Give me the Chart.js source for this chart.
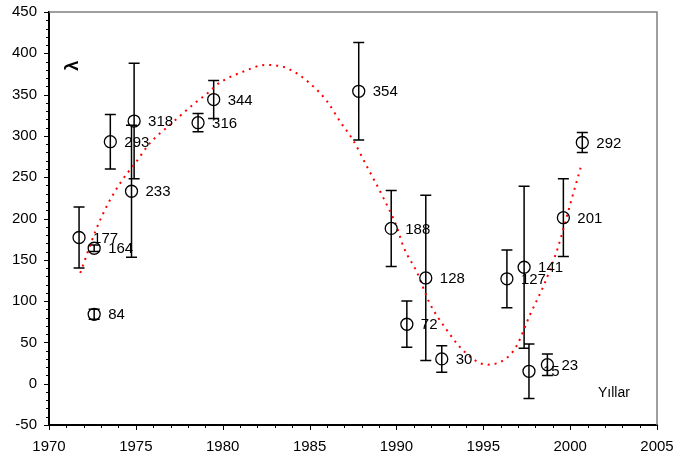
<!DOCTYPE html>
<html><head><meta charset="utf-8">
<script src="https://cdn.jsdelivr.net/npm/chart.js@4.4.1/dist/chart.umd.min.js"></script>
<style>html,body{margin:0;padding:0;background:#fff;}#wrap{width:675px;height:459px;}</style>
</head><body><div id="wrap"><canvas id="c" width="675" height="459"></canvas></div>
<script>
// ---- data ----
const years        = [1971.73, 1972.6, 1972.6, 1973.53, 1974.9, 1974.75, 1978.58, 1979.48, 1987.83, 1989.7, 1990.6, 1991.69, 1992.61, 1996.36, 1997.35, 1997.63, 1998.69, 1999.61, 2000.7];
const lambdaValues = [177, 164, 84, 293, 318, 233, 316, 344, 354, 188, 72, 128, 30, 127, 141, 15, 23, 201, 292];
const errors       = [37, 4, 6, 33, 70, 80, 11, 23, 59, 46, 28, 100, 16, 35, 98, 33, 13, 47, 12];
const pointLabels  = lambdaValues.map(String);

const fitYears  = [1971.8, 1972.7, 1973.4, 1974.2, 1975.0, 1975.8, 1977.0, 1978.3, 1979.2, 1979.8, 1981.2, 1982.5, 1983.7, 1985.0, 1986.0, 1986.8, 1987.5, 1988.3, 1989.2, 1990.0, 1990.4, 1991.2, 1991.9, 1992.9, 1993.9, 1995.2, 1996.2, 1996.9, 1997.7, 1998.5, 1999.3, 2000.0, 2000.65];
const fitValues = [134, 186, 218, 246, 268, 291, 314, 338, 353, 364, 378, 386, 382, 364, 342, 316, 295, 263, 227, 191, 166, 134, 98, 65, 39, 23, 29, 45, 84, 120, 165, 217, 265];

const xMin = 1970, xMax = 2005, xStep = 5, xMinorStep = 1;
const yMin = -50, yMax = 450, yStep = 50, yMinorStep = 10;
const yTitle = 'λ';
const xTitle = 'Yıllar';

const FONT = '"Liberation Sans", Arial, sans-serif';

const decor = {
  id: 'decor',
  beforeDatasetsDraw(chart) {
    const {ctx, chartArea: a, scales: {x, y}} = chart;
    ctx.save();
    ctx.strokeStyle = '#808080'; ctx.lineWidth = 1.5;
    ctx.beginPath();
    ctx.moveTo(a.left, a.top); ctx.lineTo(a.right, a.top); ctx.lineTo(a.right, a.bottom);
    ctx.stroke();
    ctx.strokeStyle = '#000'; ctx.lineWidth = 1;
    ctx.beginPath();
    for (let v = yMin; v <= yMax + 1e-9; v += yMinorStep) {
      const py = Math.round(y.getPixelForValue(v)) + 0.5;
      const len = (Math.abs((v - yMin) % yStep) < 1e-6) ? 5 : 3;
      ctx.moveTo(a.left - len, py); ctx.lineTo(a.left, py);
    }
    for (let v = xMin; v <= xMax + 1e-9; v += xMinorStep) {
      const px = Math.round(x.getPixelForValue(v)) + 0.5;
      const len = (Math.abs((v - xMin) % xStep) < 1e-6) ? 5 : 3;
      ctx.moveTo(px, a.bottom); ctx.lineTo(px, a.bottom + len);
    }
    ctx.stroke();
    ctx.lineWidth = 1.5; ctx.strokeStyle = '#000';
    ctx.beginPath();
    for (let i = 0; i < years.length; i++) {
      const px = x.getPixelForValue(years[i]);
      const t = y.getPixelForValue(lambdaValues[i] + errors[i]);
      const b = y.getPixelForValue(lambdaValues[i] - errors[i]);
      ctx.moveTo(px, t); ctx.lineTo(px, b);
      ctx.moveTo(px - 5.5, t); ctx.lineTo(px + 5.5, t);
      ctx.moveTo(px - 5.5, b); ctx.lineTo(px + 5.5, b);
    }
    ctx.stroke();
    ctx.restore();
  },
  afterDatasetsDraw(chart) {
    const {ctx, chartArea: a, scales: {x, y}} = chart;
    ctx.save();
    ctx.fillStyle = '#000';
    ctx.font = '15px ' + FONT;
    ctx.textAlign = 'left'; ctx.textBaseline = 'middle';
    for (let i = 0; i < years.length; i++) {
      ctx.fillText(pointLabels[i], x.getPixelForValue(years[i]) + 14, y.getPixelForValue(lambdaValues[i]) + 1);
    }
    ctx.font = '14px ' + FONT;
    ctx.fillText(xTitle, x.getPixelForValue(2001.6), y.getPixelForValue(-12));
    ctx.translate(a.left + 24, y.getPixelForValue(385));
    ctx.rotate(-Math.PI / 2);
    ctx.font = 'bold 18px ' + FONT;
    ctx.textAlign = 'center';
    ctx.fillText(yTitle, 0, 0);
    ctx.restore();
  }
};

new Chart(document.getElementById('c'), {
  type: 'scatter',
  data: {
    datasets: [
      {
        data: years.map((v, i) => ({x: v, y: lambdaValues[i]})),
        pointStyle: 'circle', pointRadius: 6, pointHoverRadius: 6,
        pointBorderWidth: 1.3, pointBorderColor: '#000', pointBackgroundColor: 'rgba(0,0,0,0)',
        showLine: false, order: 1
      },
      {
        data: fitYears.map((v, i) => ({x: v, y: fitValues[i]})),
        showLine: true, pointRadius: 0, borderColor: '#ff0000', borderWidth: 2,
        borderDash: [2, 5], cubicInterpolationMode: 'monotone', order: 2
      }
    ]
  },
  options: {
    responsive: false, animation: false, devicePixelRatio: 1,
    layout: {padding: {top: 12, right: 18, left: 0, bottom: 0}},
    plugins: {legend: {display: false}, tooltip: {enabled: false}},
    scales: {
      x: {
        type: 'linear', min: xMin, max: xMax,
        ticks: {stepSize: xStep, color: '#000', font: {size: 15, family: FONT}, padding: 13, maxRotation: 0,
                callback: v => String(v)},
        grid: {display: false, drawTicks: false},
        border: {display: true, color: '#000', width: 2},
        afterFit(s) { s.height = 34; s.paddingLeft = 0; s.paddingRight = 0; }
      },
      y: {
        min: yMin, max: yMax,
        ticks: {stepSize: yStep, color: '#000', font: {size: 15, family: FONT}, padding: 12,
                callback: v => String(v)},
        grid: {display: false, drawTicks: false},
        border: {display: true, color: '#000', width: 2},
        afterFit(s) { s.width = 49; s.paddingTop = 0; s.paddingBottom = 0; }
      }
    }
  },
  plugins: [decor]
});
</script></body></html>
